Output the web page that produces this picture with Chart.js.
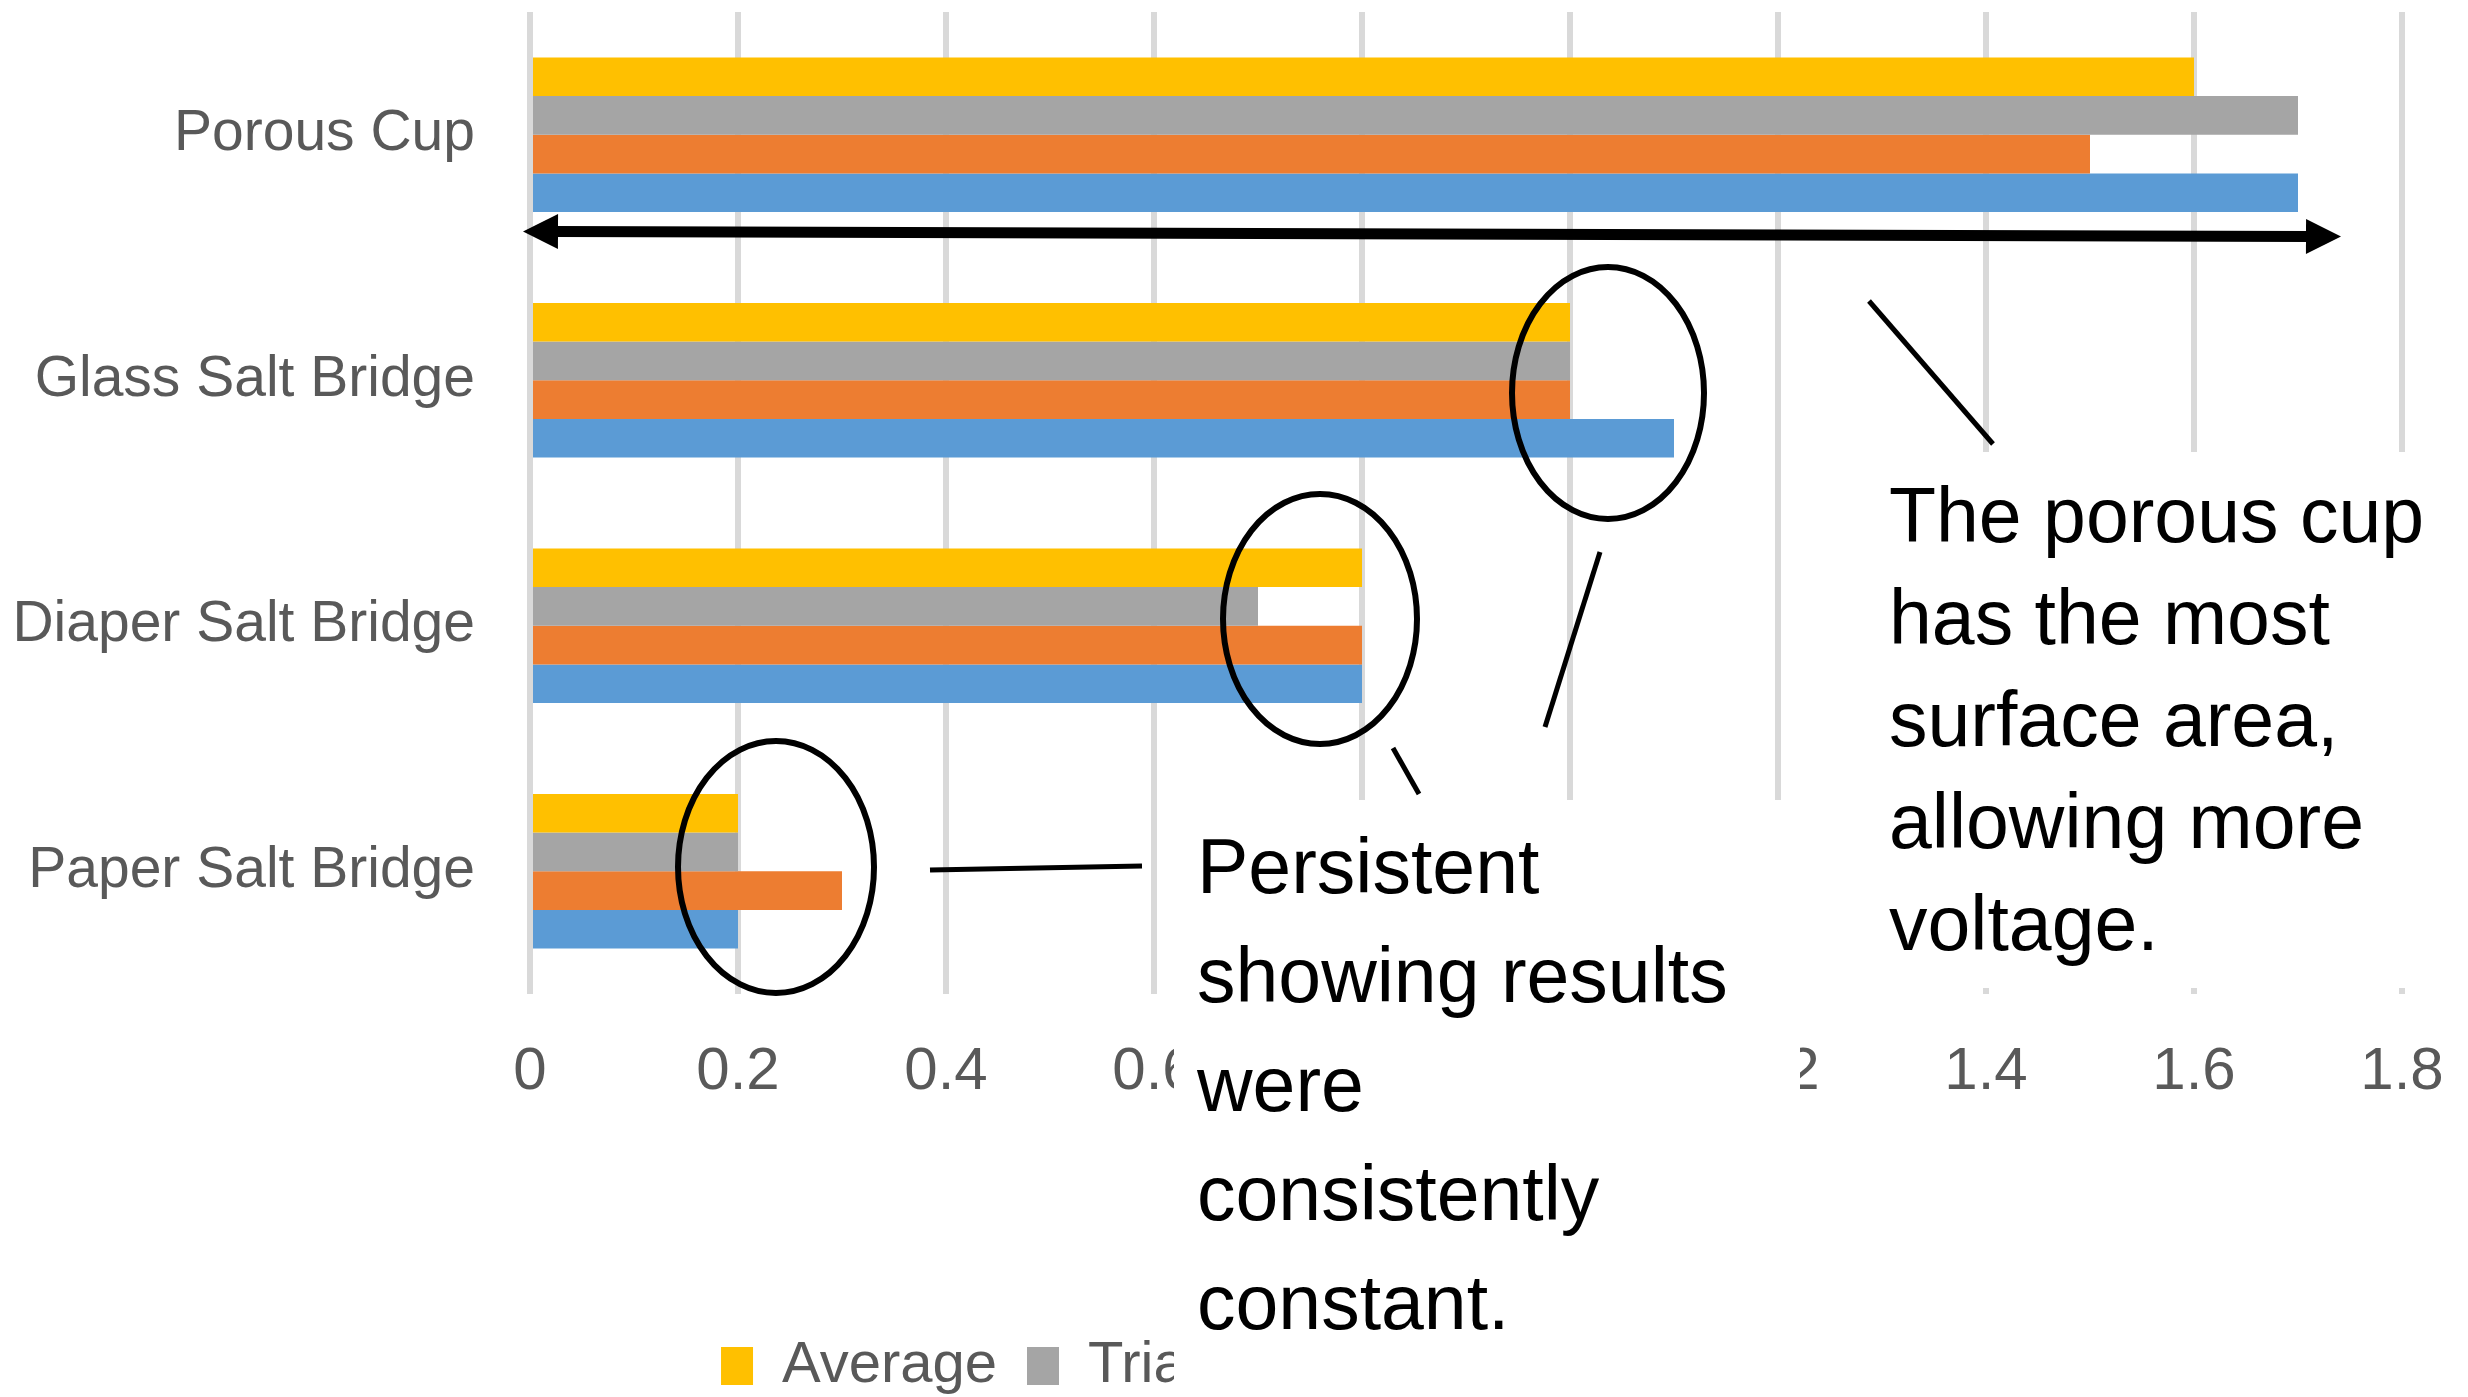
<!DOCTYPE html>
<html>
<head>
<meta charset="utf-8">
<title>Salt bridge voltage comparison</title>
<script src="https://cdn.jsdelivr.net/npm/chart.js@4.4.1/dist/chart.umd.min.js"></script>
<style>
  html, body { margin: 0; padding: 0; background: #ffffff; }
  canvas { display: block; }
</style>
</head>
<body>
<canvas id="chart" width="2468" height="1397"></canvas>
<script>
// ---- data ----
const categories = ['Porous Cup', 'Glass Salt Bridge', 'Diaper Salt Bridge', 'Paper Salt Bridge'];
const seriesNames = ['Average', 'Trial 3', 'Trial 2', 'Trial 1'];
const average = [1.6, 1.0, 0.8, 0.2];
const trial3  = [1.7, 1.0, 0.7, 0.2];
const trial2  = [1.5, 1.0, 0.8, 0.3];
const trial1  = [1.7, 1.1, 0.8, 0.2];
const xTickLabels = ['0', '0.2', '0.4', '0.6', '0.8', '1', '1.2', '1.4', '1.6', '1.8'];

// ---- styles ----
const seriesColors = ['#FFC000', '#A5A5A5', '#ED7D31', '#5B9BD5'];
const axisText = '#595959';
const chartFont = 'Liberation Sans';

// Callout text boxes laid over the chart
const callouts = [
  { box: [1860, 452, 2468, 988], x: 1889, firstBaseline: 542, lineGap: 102,
    lines: ['The porous cup', 'has the most', 'surface area,', 'allowing more', 'voltage.'] },
  { box: [1174, 800, 1800, 1397], x: 1197, firstBaseline: 893, lineGap: 109,
    lines: ['Persistent', 'showing results', 'were', 'consistently', 'constant.'] }
];
// Circles around the bar ends and the leader lines to the callouts
const rings = [
  { cx: 776, cy: 867, rx: 98, ry: 126 },
  { cx: 1320, cy: 619, rx: 97, ry: 125 },
  { cx: 1608, cy: 393, rx: 96, ry: 126 }
];
const leaders = [
  [1869, 301, 1993, 444],
  [1600, 552, 1545, 727],
  [1393, 748, 1419, 794],
  [930, 870, 1142, 866]
];
const spanArrow = { x1: 523, y1: 231.5, x2: 2341, y2: 236.5, width: 11, head: 35 };

const calloutPlugin = {
  id: 'callouts',
  afterDraw(chart) {
    const ctx = chart.ctx;
    ctx.save();

    // text boxes with white fill
    callouts.forEach(c => {
      const [x1, y1, x2, y2] = c.box;
      ctx.fillStyle = '#ffffff';
      ctx.fillRect(x1, y1, x2 - x1, y2 - y1);
      ctx.fillStyle = '#000000';
      ctx.font = '77px "' + chartFont + '"';
      ctx.textAlign = 'left';
      ctx.textBaseline = 'alphabetic';
      c.lines.forEach((t, i) => ctx.fillText(t, c.x, c.firstBaseline + i * c.lineGap));
    });

    ctx.strokeStyle = '#000000';
    ctx.lineWidth = 6;
    rings.forEach(r => {
      ctx.beginPath();
      ctx.ellipse(r.cx, r.cy, r.rx, r.ry, 0, 0, Math.PI * 2);
      ctx.stroke();
    });

    ctx.lineWidth = 5;
    ctx.lineCap = 'butt';
    leaders.forEach(l => {
      ctx.beginPath();
      ctx.moveTo(l[0], l[1]);
      ctx.lineTo(l[2], l[3]);
      ctx.stroke();
    });

    // double-headed arrow spanning the porous cup bars
    const a = spanArrow;
    const ang = Math.atan2(a.y2 - a.y1, a.x2 - a.x1);
    const ux = Math.cos(ang), uy = Math.sin(ang);
    ctx.lineWidth = a.width;
    ctx.beginPath();
    ctx.moveTo(a.x1 + ux * (a.head - 2), a.y1 + uy * (a.head - 2));
    ctx.lineTo(a.x2 - ux * (a.head - 2), a.y2 - uy * (a.head - 2));
    ctx.stroke();
    ctx.fillStyle = '#000000';
    const head = (tx, ty, dir) => {
      const bx = tx - dir * ux * a.head, by = ty - dir * uy * a.head;
      const half = a.head / 2;
      ctx.beginPath();
      ctx.moveTo(tx, ty);
      ctx.lineTo(bx - uy * half, by + ux * half);
      ctx.lineTo(bx + uy * half, by - ux * half);
      ctx.closePath();
      ctx.fill();
    };
    head(a.x2, a.y2, 1);
    head(a.x1, a.y1, -1);

    ctx.restore();
  }
};

Chart.defaults.font.family = chartFont;
Chart.defaults.color = axisText;

const seriesData = [average, trial3, trial2, trial1];

new Chart(document.getElementById('chart').getContext('2d'), {
  type: 'bar',
  data: {
    labels: categories,
    datasets: seriesNames.map((name, i) => ({
      label: name,
      data: seriesData[i],
      backgroundColor: seriesColors[i],
      borderWidth: 0,
      categoryPercentage: 0.63,
      barPercentage: 1.0
    }))
  },
  options: {
    indexAxis: 'y',
    responsive: false,
    animation: false,
    devicePixelRatio: 1,
    layout: { padding: { left: 0, right: 0, top: 12, bottom: -8 } },
    plugins: {
      legend: {
        position: 'bottom',
        labels: {
          font: { family: chartFont, size: 58 },
          color: axisText,
          boxWidth: 32,
          boxHeight: 38,
          padding: 30
        }
      },
      tooltip: { enabled: false }
    },
    scales: {
      x: {
        min: 0,
        max: 1.8,
        ticks: {
          stepSize: 0.2,
          font: { family: chartFont, size: 60 },
          color: axisText,
          padding: 42,
          maxRotation: 0,
          callback: (v, i) => xTickLabels[i]
        },
        grid: { color: '#D9D9D9', lineWidth: 6, drawTicks: false },
        border: { display: false },
        afterFit(scale) {
          scale.height = 313;
          scale.paddingRight = 66;
        }
      },
      y: {
        ticks: {
          font: { family: chartFont, size: 57 },
          color: axisText,
          padding: 55
        },
        grid: { display: false, drawTicks: false },
        border: { display: false },
        afterFit(scale) {
          scale.width = 530;
          scale.paddingTop = 0;
          scale.paddingBottom = 0;
        }
      }
    }
  },
  plugins: [calloutPlugin]
});
</script>
</body>
</html>
